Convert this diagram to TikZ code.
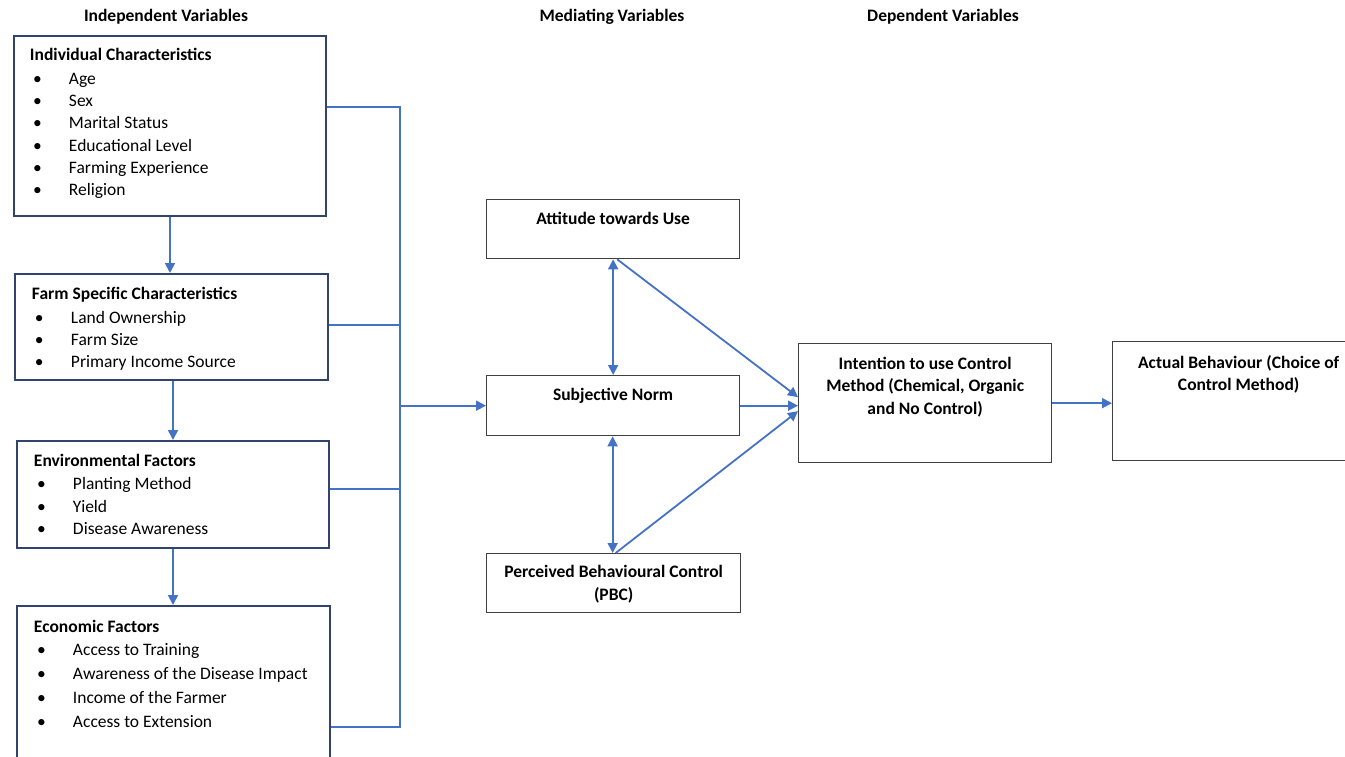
\documentclass[tikz,border=0pt]{standalone}
\usepackage{fontspec}
\setmainfont{Carlito}
\usetikzlibrary{positioning, arrows.meta}

\definecolor{framenavy}{RGB}{50,68,108}
\definecolor{linkblue}{RGB}{68,114,196}

\newcommand{\boxtext}[3]{\parbox[c][#2][t]{#1}{#3}}
\newcommand{\hdr}[1]{\textbf{#1}\vspace{1.5pt}}
\newcommand{\itm}[1]{\\\hspace*{3pt}\makebox[36pt][l]{\textbullet}#1}

\begin{document}
\begin{tikzpicture}[x=1pt, y=-1pt,
	font=\fontsize{17.5}{22.2}\selectfont,
	ivbox/.style={draw=framenavy, line width=2pt, inner sep=0pt, anchor=north west},
	mvbox/.style={draw=black!75, line width=1.3pt, inner sep=0pt, anchor=north west},
	heading/.style={font=\fontsize{17.5}{22}\selectfont\bfseries},
	link/.style={draw=linkblue, line width=1.8pt},
	fwdhead/.style={-{Triangle[length=10pt, width=10pt]}},
	duohead/.style={{Triangle[length=10pt, width=10pt]}-{Triangle[length=10pt, width=10pt]}}]

	\clip (0,0) rectangle (1345,757);

	% column headings
	\node[heading] (indep) at (166,17) {Independent Variables};
	\node[heading] (medi) at (612,17) {Mediating Variables};
	\node[heading] (dep) at (943,17) {Dependent Variables};

	% independent variables
	\node[ivbox] (indiv) at (13,35) {\boxtext{312pt}{180pt}{\raggedright\leftskip=16pt\vspace*{12.5pt}%
		\hdr{Individual Characteristics}\itm{Age}\itm{Sex}\itm{Marital Status}%
		\itm{Educational Level}\itm{Farming Experience}\itm{Religion}}};
	\node[ivbox] (farm) at (14,273) {\boxtext{313pt}{106pt}{\raggedright\leftskip=17pt\vspace*{13pt}%
		\hdr{Farm Specific Characteristics}\itm{Land Ownership}\itm{Farm Size}\itm{Primary Income Source}}};
	\node[ivbox] (env) at (16,440) {\boxtext{312pt}{107pt}{\raggedright\leftskip=17pt\vspace*{13pt}%
		\hdr{Environmental Factors}\itm{Planting Method}\itm{Yield}\itm{Disease Awareness}}};
	\node[ivbox] (econ) at (16,605) {\boxtext{313pt}{170pt}{\raggedright\leftskip=17pt
		\baselineskip=23.7pt\vspace*{14pt}%
		\textbf{Economic Factors}\itm{Access to Training}\itm{Awareness of the Disease Impact}%
		\itm{Income of the Farmer}\itm{Access to Extension}}};

	% mediating variables
	\node[mvbox] (att) at (486,199) {\boxtext{253pt}{59pt}{\centering\bfseries\vspace*{12.5pt}Attitude towards Use}};
	\node[mvbox] (sn) at (486,375) {\boxtext{253pt}{60pt}{\centering\bfseries\vspace*{12.5pt}Subjective Norm}};
	\node[mvbox] (pbc) at (486,553) {\boxtext{254pt}{59pt}{\centering\bfseries\vspace*{12pt}Perceived Behavioural Control\\(PBC)}};

	% dependent variables
	\node[mvbox] (intent) at (798,343) {\boxtext{253pt}{119pt}{\centering\bfseries\baselineskip=22.5pt\vspace*{13.5pt}%
		Intention to use Control\\Method (Chemical, Organic\\and No Control)}};
	\node[mvbox] (actual) at (1112,341) {\boxtext{252pt}{119pt}{\centering\bfseries\vspace*{13.5pt}%
		Actual Behaviour (Choice of\\Control Method)}};

	% spine joining the independent variables
	\coordinate (j1) at (400,107);
	\coordinate (j2) at (400,325);
	\coordinate (j3) at (400,489);
	\coordinate (j4) at (400,727);

	\draw[link] (j1 -| indiv.east) -- (j1) -- (j4) -- (j4 -| econ.east);
	\draw[link] (j2 -| farm.east) -- (j2);
	\draw[link] (j3 -| env.east) -- (j3);

	\draw[link, fwdhead] (indiv.south) -- (indiv.south |- farm.north);
	\draw[link, fwdhead] ([xshift=1.5pt]farm.south) -- ([xshift=1.5pt]farm.south |- env.north);
	\draw[link, fwdhead] (env.south) -- (env.south |- econ.north);
	\draw[link, fwdhead] (sn.west -| j1) -- (sn.west);

	\draw[link, duohead] (att.south) -- (sn.north);
	\draw[link, duohead] ([xshift=-0.5pt]sn.south) -- ([xshift=-0.5pt]sn.south |- pbc.north);

	\draw[link, fwdhead] ([xshift=4pt]att.south) -- ([yshift=6pt]intent.west);
	\draw[link, fwdhead] (sn.east) -- (sn.east -| intent.west);
	\draw[link, fwdhead] ([xshift=2pt]pbc.north) -- ([yshift=-8pt]intent.west);
	\draw[link, fwdhead] (intent.east) -- (intent.east -| actual.west);
\end{tikzpicture}
\end{document}
